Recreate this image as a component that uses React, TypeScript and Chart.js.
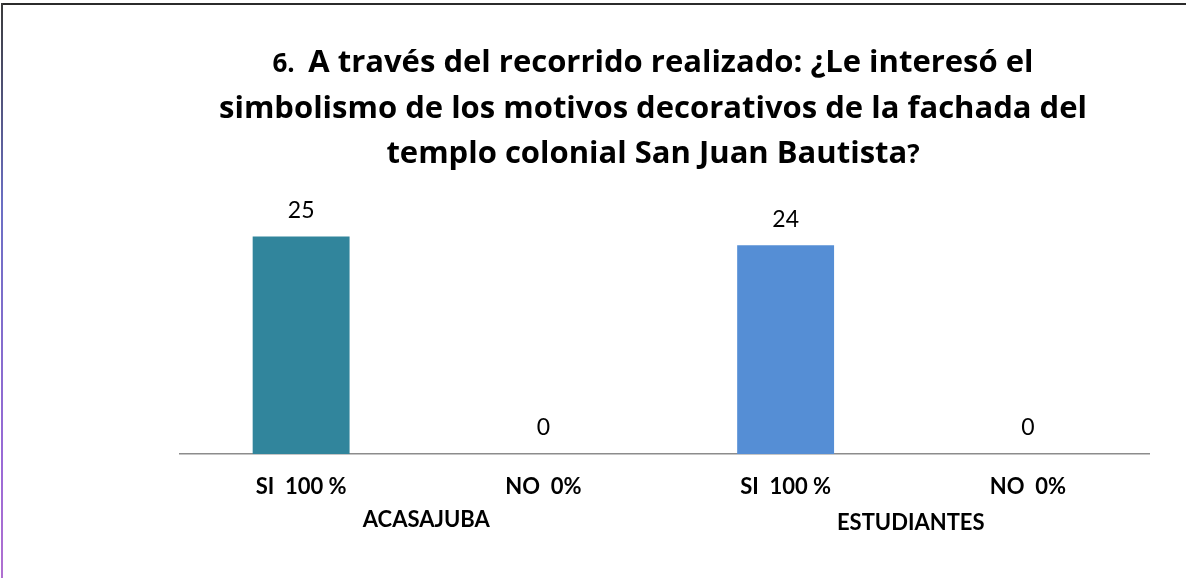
import React, { useEffect, useRef } from "react";
import { Chart, registerables } from "chart.js";

Chart.register(...registerables);

const categories = ["SI  100 %", "NO  0%", "SI  100 %", "NO  0%"];
const groups = ["ACASAJUBA", "ESTUDIANTES"];
const values = [25, 0, 24, 0];
const barColors = ["#31859C", "#31859C", "#558ED5", "#558ED5"];
const titleLine1 = ["6.  ", "A través del recorrido realizado: ¿Le interesó el"];
const titleLine2 = ["", "simbolismo de los motivos decorativos de la fachada del"];
const titleLine3 = ["", "templo colonial San Juan Bautista", "?"];

const FONT = "Lato, 'Open Sans', sans-serif";
const TFONT = "'Open Sans', Lato, sans-serif";

const overlayPlugin = {
  id: "overlay",
  afterDraw(chart: any) {
    const ctx = chart.ctx;
    const x = chart.scales.x;
    const y = chart.scales.y;
    ctx.save();
    // title
    const cx = 653;
    const drawLine = (runs: string[], baseline: number) => {
      const parts = runs.map((t, i) => {
        const small = (runs.length === 2 && i === 0) || (runs.length === 3 && i === 2);
        return { t, font: `bold ${small ? 26 : 31}px ${TFONT}` };
      });
      let total = 0;
      parts.forEach((p) => {
        ctx.font = p.font;
        total += ctx.measureText(p.t).width;
      });
      let px = cx - total / 2;
      ctx.fillStyle = "#000";
      ctx.textAlign = "left";
      ctx.textBaseline = "alphabetic";
      parts.forEach((p) => {
        ctx.font = p.font;
        ctx.fillText(p.t, px, baseline);
        px += ctx.measureText(p.t).width;
      });
    };
    drawLine(titleLine1, 72);
    drawLine(titleLine2, 118);
    drawLine(titleLine3, 163);

    // value labels
    ctx.textAlign = "center";
    ctx.textBaseline = "middle";
    ctx.font = `23px ${FONT}`;
    ctx.fillStyle = "#000";
    const meta = chart.getDatasetMeta(0);
    meta.data.forEach((bar: any, i: number) => {
      ctx.fillText(String(values[i]), bar.x, y.getPixelForValue(values[i]) - 26);
    });

    // category labels
    ctx.font = `bold 22px ${FONT}`;
    categories.forEach((c, i) => {
      ctx.fillText(c, x.getPixelForValue(i), 487);
    });
    groups.forEach((g, gi) => {
      const a = x.getPixelForValue(gi * 2);
      const b = x.getPixelForValue(gi * 2 + 1);
      ctx.fillText(g, (a + b) / 2 + 4, 520 + gi * 3);
    });
    ctx.restore();
  },
};

export default function App() {
  const ref = useRef<HTMLCanvasElement>(null);
  useEffect(() => {
    const chart = new Chart(ref.current as HTMLCanvasElement, {
      type: "bar",
      data: {
        labels: categories,
        datasets: [
          {
            data: values,
            backgroundColor: barColors,
            borderWidth: 0,
            barPercentage: 0.5,
            categoryPercentage: 0.8,
          },
        ],
      },
      options: {
        responsive: false,
        animation: false,
        layout: { padding: { left: 180, right: 37, top: 193, bottom: 116 } },
        plugins: { legend: { display: false }, tooltip: { enabled: false }, title: { display: false } },
        scales: {
          x: {
            grid: { display: false },
            ticks: { display: false },
            border: { display: true, color: "#8C8C8C", width: 1.5 },
          },
          y: { display: false, min: 0, max: 30 },
        },
      },
      plugins: [overlayPlugin],
    });
    return () => chart.destroy();
  }, []);
  return (
    <div style={{ position: "fixed", left: 0, top: 0, width: 1186, height: 578, background: "#fff" }}>
      <canvas ref={ref} width={1186} height={578} style={{ position: "absolute", left: 0, top: 0 }} />
      <div style={{ position: "absolute", left: 2, top: 3, width: 1184, height: 1.5, background: "#2b2b2b" }} />
      <div
        style={{
          position: "absolute",
          left: 1,
          top: 3,
          width: 2,
          height: 575,
          background: "linear-gradient(#3a3a3a, #6b6fc4 35%, #9a6ad6 80%, #b070d0)",
        }}
      />
    </div>
  );
}
